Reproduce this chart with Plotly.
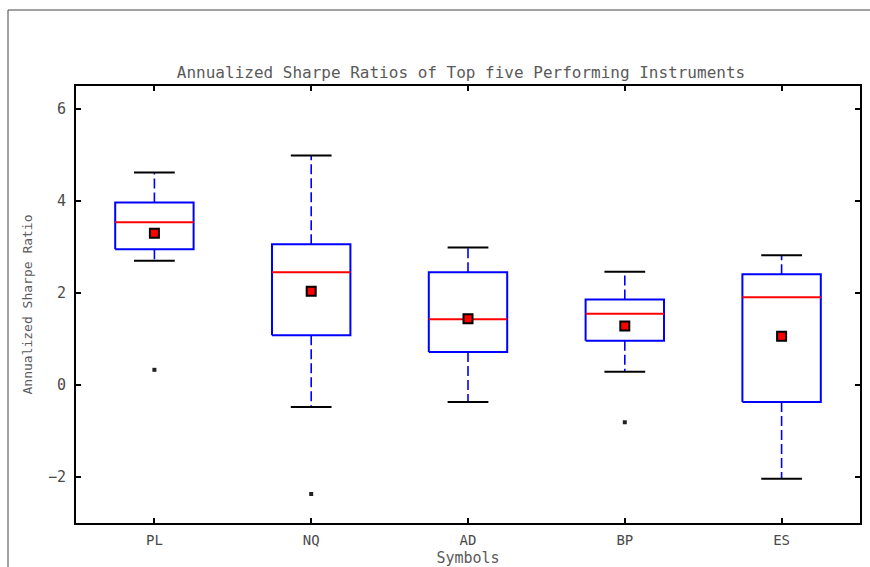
import plotly.graph_objects as go

symbols = ["PL", "NQ", "AD", "BP", "ES"]
lower_whisker = [2.70, -0.48, -0.37, 0.29, -2.04]
q1 = [2.95, 1.08, 0.72, 0.96, -0.37]
median = [3.54, 2.45, 1.43, 1.55, 1.91]
q3 = [3.97, 3.06, 2.45, 1.86, 2.41]
upper_whisker = [4.62, 4.99, 2.99, 2.46, 2.82]
means = [3.30, 2.04, 1.44, 1.28, 1.06]
outlier_symbol = ["PL", "NQ", "BP"]
outlier_value = [0.33, -2.37, -0.81]

title = "Annualized Sharpe Ratios of Top five Performing Instruments"
x_title = "Symbols"
y_title = "Annualized Sharpe Ratio"
y_ticks = [-2, 0, 2, 4, 6]

BOX_HALF = 0.25
CAP_HALF = 0.13
pos = {s: i + 1 for i, s in enumerate(symbols)}

box_x, box_y = [], []
med_x, med_y = [], []
wh_x, wh_y = [], []
cap_x, cap_y = [], []
for s, lo, a, m, b, hi in zip(symbols, lower_whisker, q1, median, q3, upper_whisker):
    p = pos[s]
    box_x += [p - BOX_HALF, p + BOX_HALF, p + BOX_HALF, p - BOX_HALF, p - BOX_HALF, None]
    box_y += [a, a, b, b, a, None]
    med_x += [p - BOX_HALF, p + BOX_HALF, None]
    med_y += [m, m, None]
    wh_x += [p, p, None, p, p, None]
    wh_y += [b, hi, None, a, lo, None]
    cap_x += [p - CAP_HALF, p + CAP_HALF, None, p - CAP_HALF, p + CAP_HALF, None]
    cap_y += [hi, hi, None, lo, lo, None]

fig = go.Figure()
fig.add_trace(go.Scatter(x=wh_x, y=wh_y, mode="lines",
                         line=dict(color="#0000ff", width=1.6, dash="10px,4px"),
                         hoverinfo="skip", showlegend=False))
fig.add_trace(go.Scatter(x=cap_x, y=cap_y, mode="lines",
                         line=dict(color="black", width=2),
                         hoverinfo="skip", showlegend=False))
fig.add_trace(go.Scatter(x=box_x, y=box_y, mode="lines",
                         line=dict(color="#0000ff", width=2),
                         hoverinfo="skip", showlegend=False))
fig.add_trace(go.Scatter(x=med_x, y=med_y, mode="lines",
                         line=dict(color="#ff0000", width=2),
                         hoverinfo="skip", showlegend=False))
fig.add_trace(go.Scatter(x=[pos[s] for s in symbols], y=means, mode="markers",
                         marker=dict(symbol="square", size=9, color="#ff0000",
                                     line=dict(color="black", width=2)),
                         showlegend=False))
fig.add_trace(go.Scatter(x=[pos[s] for s in outlier_symbol], y=outlier_value, mode="markers",
                         marker=dict(symbol="square", size=4, color="#222222",
                                     line=dict(width=0)),
                         showlegend=False))

L, R, T, B = 76, 10, 86, 44
W, H = 870, 567
pw, ph = W - L - R, H - T - B
MONO = "DejaVu Sans Mono"
GRAY = "#5a5a5a"

fig.update_layout(
    width=W, height=H,
    margin=dict(l=L, r=R, t=T, b=B),
    paper_bgcolor="white", plot_bgcolor="white",
    font=dict(family=MONO, color=GRAY),
    title=dict(text=title, x=(461 - L) / pw, xref="paper", xanchor="center",
               y=1 - 72 / H, yref="container", yanchor="middle",
               font=dict(size=16, color=GRAY, family=MONO)),
    xaxis=dict(range=[0.5, 5.5], tickvals=[pos[s] for s in symbols], ticktext=symbols,
               ticks="inside", ticklen=5, tickwidth=1.5, tickcolor="black",
               showline=True, linecolor="black", linewidth=2, mirror="ticks",
               showgrid=False, zeroline=False, ticklabelstandoff=3, automargin=False,
               tickfont=dict(size=14, color="#4a4a4a", family=MONO),
               title=dict(text=x_title, standoff=19, font=dict(size=15, color=GRAY, family=MONO))),
    yaxis=dict(range=[-3, 6.5], tickvals=y_ticks,
               ticks="inside", ticklen=5, tickwidth=1.5, tickcolor="black",
               showline=True, linecolor="black", linewidth=2, mirror="ticks",
               showgrid=False, zeroline=False, ticklabelstandoff=5, automargin=False,
               tickfont=dict(size=15, color="#4a4a4a", family=MONO),
               title=dict(text=y_title, standoff=12, font=dict(size=13, color=GRAY, family=MONO))),
    shapes=[
        dict(type="line", xref="paper", yref="paper",
             x0=(8 - L) / pw, x1=(W + 20 - L) / pw,
             y0=1 + (T - 10) / ph, y1=1 + (T - 10) / ph,
             line=dict(color="#444444", width=1)),
        dict(type="line", xref="paper", yref="paper",
             x0=(8 - L) / pw, x1=(8 - L) / pw,
             y0=1 + (T - 10) / ph, y1=-(B + 20) / ph,
             line=dict(color="#444444", width=1)),
    ],
)

fig.write_html("out.html",
               config={"displayModeBar": False},
               post_script="document.body.style.margin='0';document.body.style.padding='0';")
